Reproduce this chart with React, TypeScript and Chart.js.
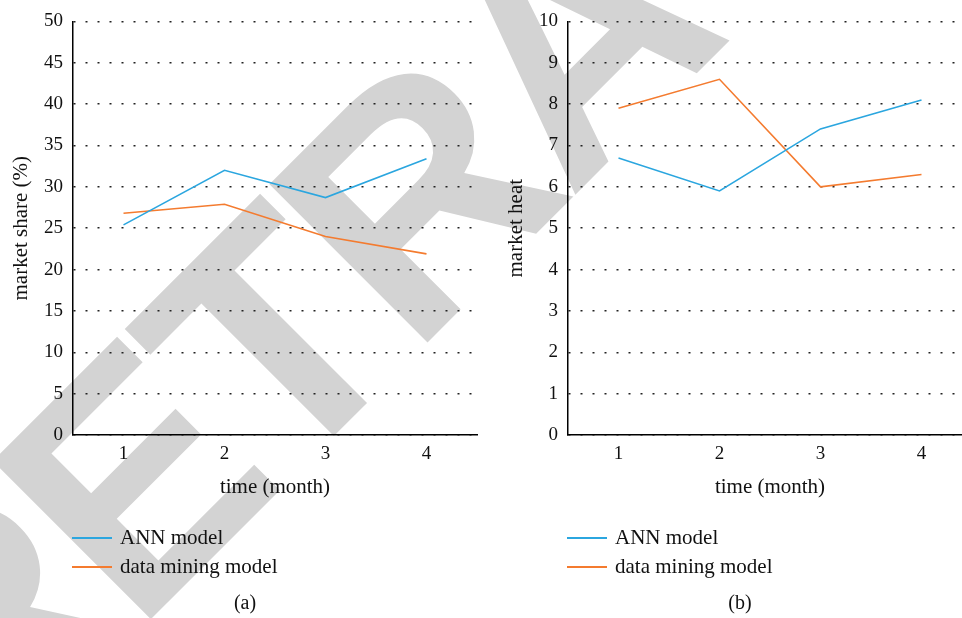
import React, { useEffect, useRef } from "react";
import { Chart, registerables } from "chart.js";

Chart.register(...registerables);

// ---- data ----
const months = ["1", "2", "3", "4"];
const seriesNames = ["ANN model", "data mining model"];
const seriesColors = ["#2ba6df", "#f47b2f"];
const annShare = [25.4, 32.0, 28.7, 33.4];
const dmShare = [26.8, 27.9, 24.0, 21.9];
const annHeat = [6.7, 5.9, 7.4, 8.1];
const dmHeat = [7.9, 8.6, 6.0, 6.3];
const shareAxis = { min: 0, max: 50, step: 5, title: "market share (%)" };
const heatAxis = { min: 0, max: 10, step: 1, title: "market heat" };
const xTitle = "time (month)";
const captions = ["(a)", "(b)"];
const watermarkText = "RETRACTED";

const SERIF = "'Liberation Serif', 'Times New Roman', serif";
const INK = "#111";

function makeConfig(values: number[][], axis: { min: number; max: number; step: number; title: string }): any {
  return {
    type: "line",
    data: {
      labels: months,
      datasets: values.map((v, i) => ({
        label: seriesNames[i],
        data: v,
        borderColor: seriesColors[i],
        backgroundColor: seriesColors[i],
        borderWidth: 1.6,
        pointRadius: 0,
        tension: 0,
        fill: false,
      })),
    },
    options: {
      responsive: false,
      maintainAspectRatio: false,
      animation: false,
      layout: { padding: { top: 21, right: 3, left: 0, bottom: 0 } },
      plugins: { legend: { display: false }, tooltip: { enabled: false } },
      scales: {
        x: {
          type: "category",
          offset: true,
          grid: { display: false, drawTicks: false },
          border: { display: true, color: "#000", width: 1.5 },
          ticks: { color: INK, font: { family: SERIF, size: 19 }, padding: 8 },
          title: {
            display: true,
            text: xTitle,
            color: INK,
            font: { family: SERIF, size: 21 },
            padding: { top: 0, bottom: 0 },
          },
          afterFit: (s: any) => {
            s.height = 65;
          },
        },
        y: {
          min: axis.min,
          max: axis.max,
          grid: { color: "#222", lineWidth: 1.5, drawTicks: false },
          border: { display: true, color: "#000", width: 1.5, dash: [2, 10], dashOffset: 0 },
          ticks: { stepSize: axis.step, color: INK, font: { family: SERIF, size: 19 }, padding: 10 },
          title: {
            display: true,
            text: axis.title,
            color: INK,
            font: { family: SERIF, size: 21 },
            padding: { top: 9, bottom: 0 },
          },
          afterFit: (s: any) => {
            s.width = 73;
          },
        },
      },
    },
  };
}

function Legend({ left, top }: { left: number; top: number }) {
  return (
    <div style={{ position: "absolute", left, top, fontFamily: SERIF, fontSize: 21, color: INK }}>
      {seriesNames.map((n, i) => (
        <div key={n} style={{ display: "flex", alignItems: "center", height: 29, whiteSpace: "nowrap" }}>
          <span style={{ display: "inline-block", width: 40, height: 2, background: seriesColors[i], marginRight: 8 }} />
          <span>{n}</span>
        </div>
      ))}
    </div>
  );
}

function drawWatermark(canvas: HTMLCanvasElement) {
  const ctx = canvas.getContext("2d")!;
  ctx.clearRect(0, 0, canvas.width, canvas.height);
  ctx.save();
  ctx.translate(-22, 792);
  ctx.rotate(-Math.PI / 4);
  ctx.fillStyle = "#d3d3d3";
  ctx.font = "bold 325px 'Liberation Sans', Arial, sans-serif";
  ctx.textBaseline = "alphabetic";
  let x = 0;
  for (const ch of watermarkText) {
    ctx.fillText(ch, x, 0);
    x += ctx.measureText(ch).width - 12;
  }
  ctx.restore();
}

export default function App() {
  const leftRef = useRef<HTMLCanvasElement>(null);
  const rightRef = useRef<HTMLCanvasElement>(null);
  const wmRef = useRef<HTMLCanvasElement>(null);

  useEffect(() => {
    if (wmRef.current) drawWatermark(wmRef.current);
    const c1 = new Chart(leftRef.current!, makeConfig([annShare, dmShare], shareAxis));
    const c2 = new Chart(rightRef.current!, makeConfig([annHeat, dmHeat], heatAxis));
    return () => {
      c1.destroy();
      c2.destroy();
    };
  }, []);

  return (
    <div
      style={{
        position: "fixed",
        left: 0,
        top: 0,
        width: 962,
        height: 618,
        overflow: "hidden",
        background: "#fff",
      }}
    >
      <canvas ref={wmRef} width={962} height={618} style={{ position: "absolute", left: 0, top: 0 }} />
      <canvas ref={leftRef} width={480} height={500} style={{ position: "absolute", left: 0, top: 0, width: 480, height: 500 }} />
      <canvas ref={rightRef} width={480} height={500} style={{ position: "absolute", left: 495, top: 0, width: 480, height: 500 }} />
      <Legend left={72} top={523} />
      <Legend left={567} top={523} />
      <div style={{ position: "absolute", left: 195, width: 100, top: 591, textAlign: "center", fontFamily: SERIF, fontSize: 20, color: INK }}>
        {captions[0]}
      </div>
      <div style={{ position: "absolute", left: 690, width: 100, top: 591, textAlign: "center", fontFamily: SERIF, fontSize: 20, color: INK }}>
        {captions[1]}
      </div>
    </div>
  );
}
